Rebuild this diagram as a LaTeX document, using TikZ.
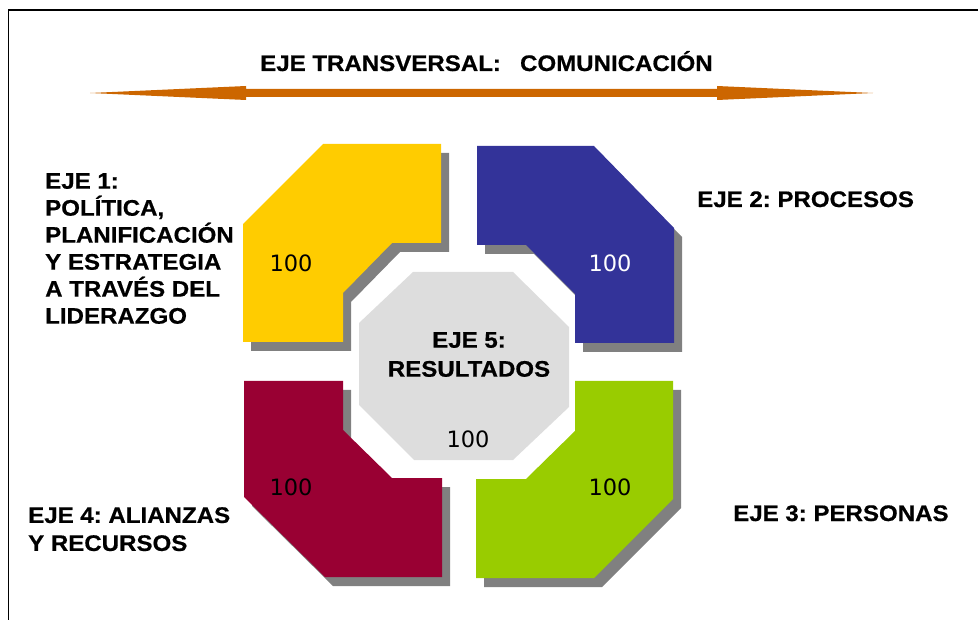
\documentclass[tikz,border=0pt]{standalone}
\usepackage{fontspec}
\setmainfont{Liberation Sans}
\newfontfamily\lblfont{Liberation Sans}[FakeStretch=1.07, BoldFeatures={FakeBold=0.6}]
\newfontfamily\numfont{DejaVu Sans}
\frenchspacing
\definecolor{cyel}{HTML}{FFCC00}
\definecolor{cblu}{HTML}{333399}
\definecolor{cred}{HTML}{990033}
\definecolor{cgrn}{HTML}{99CC00}
\definecolor{cgry}{HTML}{DDDDDD}
\definecolor{cshd}{HTML}{808080}
\definecolor{carr}{HTML}{CC6600}
\tikzset{
  axislabel/.style={inner sep=0pt, font=\lblfont\bfseries\fontsize{22.5}{27}\selectfont\frenchspacing, text=black},
  numlabel/.style={inner sep=0pt, font=\numfont\fontsize{22.5}{27}\selectfont},
  shadowfill/.style={fill=cshd, draw=none},
}
\begin{document}
\begin{tikzpicture}[x=1pt, y=-1pt]
\useasboundingbox (0,0) rectangle (978,620);
% frame
\draw[line width=1.5pt, black] (8.5,620) -- (8.5,10) -- (978,10);
% double arrow
\fill[carr] (90,93) -- (246,86) -- (246,89) -- (717,89) -- (717,86) -- (873,93)
  -- (717,100) -- (717,97) -- (246,97) -- (246,100) -- cycle;
\node[axislabel, anchor=base west] (title) at (260,71) {EJE TRANSVERSAL:\hspace{0.85em}COMUNICACIÓN};
% shadows
\begin{scope}[shift={(8,9)}]
  \fill[shadowfill] (323,144) -- (441,144) -- (441,243) -- (392,243) -- (343,293) -- (343,342) -- (243,342) -- (243,224) -- cycle;
  \fill[shadowfill] (477,146) -- (594,146) -- (674,228) -- (674,343) -- (575,343) -- (575,294) -- (526,245) -- (477,245) -- cycle;
  \fill[shadowfill] (244,381) -- (343,381) -- (343,430) -- (392,478) -- (442,478) -- (442,577) -- (325,577) -- (244,497) -- cycle;
  \fill[shadowfill] (575,381) -- (673,381) -- (673,499) -- (594,578) -- (476,578) -- (476,479) -- (526,479) -- (575,431) -- cycle;
\end{scope}
% shapes
\fill[cyel] (323,144) -- (441,144) -- (441,243) -- (392,243) -- (343,293) -- (343,342) -- (243,342) -- (243,224) -- cycle;
\fill[cblu] (477,146) -- (594,146) -- (674,228) -- (674,343) -- (575,343) -- (575,294) -- (526,245) -- (477,245) -- cycle;
\fill[cred] (244,381) -- (343,381) -- (343,430) -- (392,478) -- (442,478) -- (442,577) -- (325,577) -- (244,497) -- cycle;
\fill[cgrn] (575,381) -- (673,381) -- (673,499) -- (594,578) -- (476,578) -- (476,479) -- (526,479) -- (575,431) -- cycle;
\fill[cgry] (413,272) -- (513,272) -- (569,327) -- (569,407) -- (513,460) -- (414,460) -- (359,405) -- (359,323) -- cycle;
% numbers
\node[numlabel, text=black] (n1) at (291,263) {100};
\node[numlabel, text=white] (n2) at (610,263) {100};
\node[numlabel, text=black] (n4) at (291,487) {100};
\node[numlabel, text=black] (n3) at (610,487) {100};
\node[numlabel, text=black] (n5) at (468,439) {100};
% labels
\node[axislabel, anchor=north west, align=left] (eje1) at (45,173)
  {EJE 1:\\POLÍTICA,\\PLANIFICACIÓN\\Y ESTRATEGIA\\A TRAVÉS DEL\\LIDERAZGO};
\node[axislabel, anchor=base west] (eje2) at (697,207) {EJE 2: PROCESOS};
\node[axislabel, anchor=base west] (eje3) at (733,521) {EJE 3: PERSONAS};
\node[axislabel, anchor=north west, align=left] (eje4) at (28,507)
  {EJE 4: ALIANZAS\\[1pt]Y RECURSOS};
\node[axislabel, anchor=north, align=center] (eje5) at (469,332)
  {EJE 5:\\[2pt]RESULTADOS};
\end{tikzpicture}
\end{document}
